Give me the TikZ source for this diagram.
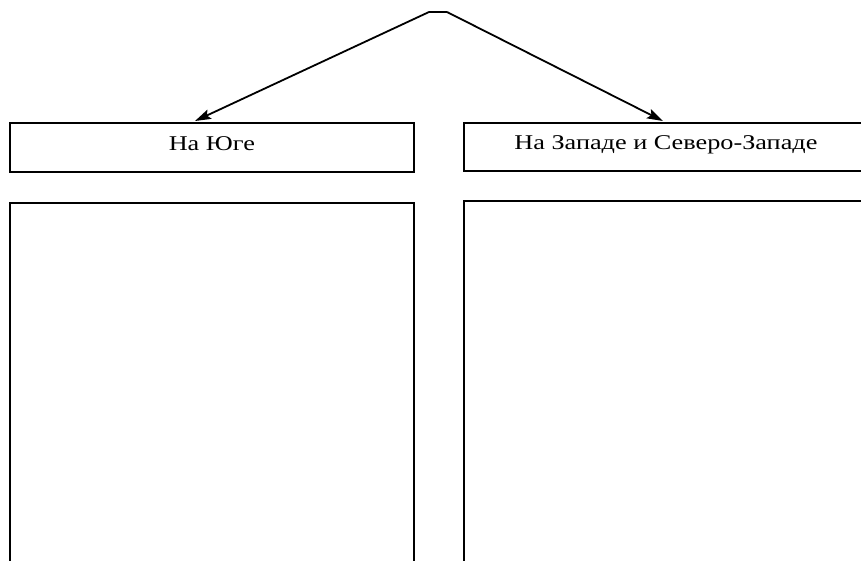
\documentclass[tikz,border=0pt]{standalone}
\usepackage{graphicx}
\usepackage{fontspec}
\setmainfont{Liberation Serif}
\usetikzlibrary{arrows.meta}
\newcommand{\widetext}[1]{\scalebox{1.25}[1]{#1}}
\begin{document}
\begin{tikzpicture}[x=1pt,y=-1pt,
  boxstyle/.style={draw,line width=1.8pt,inner sep=0pt,anchor=north west,text height=13pt,text depth=7pt,font=\fontsize{21}{24}\selectfont},
  arr/.style={line width=1.8pt,-{Stealth[length=16pt,width=10pt,inset=3pt]}}]
\useasboundingbox (0,0) rectangle (861,560);
\clip (0,0) rectangle (861,560);
\node[boxstyle,minimum width=404pt,minimum height=49pt] (lhead) at (9,122) {\widetext{На Юге}};
\node[boxstyle,minimum width=404pt,minimum height=48pt] (rhead) at (463,122) {\widetext{На Западе и Северо-Западе}};
\node[boxstyle,minimum width=404pt,minimum height=420pt] (lbody) at (9,202) {};
\node[boxstyle,minimum width=404pt,minimum height=420pt] (rbody) at (463,200) {};
\coordinate (apexL) at (429,12);
\coordinate (apexR) at (447,12);
\coordinate (tipL) at (195,121);
\coordinate (tipR) at (663,121);
\draw[line width=1.8pt] (apexL) -- (apexR);
\draw[arr] (apexL) -- (tipL);
\draw[arr] (apexR) -- (tipR);
\end{tikzpicture}
\end{document}
